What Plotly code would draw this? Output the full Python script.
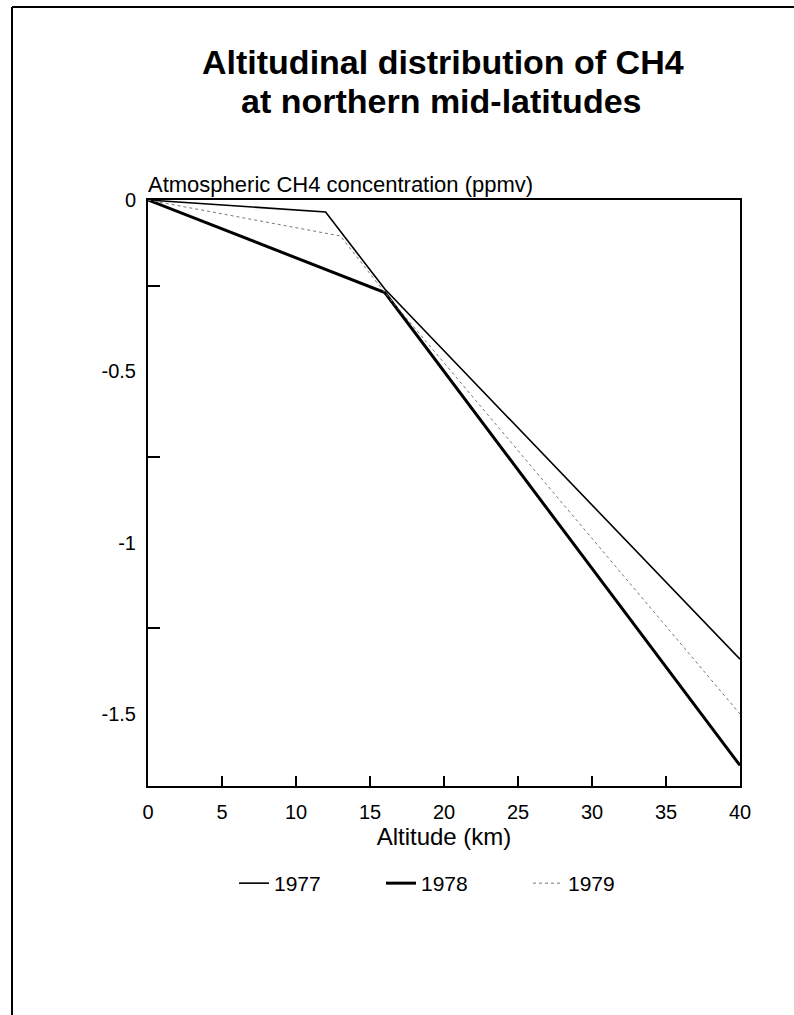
import plotly.graph_objects as go

# Data
alt_1977 = [0, 12, 16, 40]
ch4_1977 = [0, -0.035, -0.26, -1.34]
alt_1978 = [0, 16, 40]
ch4_1978 = [0, -0.27, -1.65]
alt_1979 = [0, 13, 16, 40]
ch4_1979 = [0, -0.105, -0.27, -1.50]

x_ticks = [0, 5, 10, 15, 20, 25, 30, 35, 40]
y_ticks = [0, -0.5, -1, -1.5]
y_ticklabels = ["0", "-0.5", "-1", "-1.5"]
y_minor = [-0.25, -0.75, -1.25]

FONT = "Liberation Sans, Arial, sans-serif"

fig = go.Figure()
fig.add_trace(go.Scatter(x=alt_1977, y=ch4_1977, mode="lines", name="1977",
                         line=dict(color="black", width=1.6)))
fig.add_trace(go.Scatter(x=alt_1978, y=ch4_1978, mode="lines", name="1978",
                         line=dict(color="black", width=3)))
fig.add_trace(go.Scatter(x=alt_1979, y=ch4_1979, mode="lines", name="1979",
                         line=dict(color="#777777", width=1, dash="dot")))

L, R, T, B = 148, 54, 200, 229
W, H = 794, 1015
pw, ph = W - L - R, H - T - B

def px(x):
    return (x - L) / pw

def py(y):
    return (H - B - y) / ph

fig.update_layout(
    width=W, height=H,
    margin=dict(l=L, r=R, t=T, b=B),
    paper_bgcolor="white", plot_bgcolor="white",
    font=dict(family=FONT, color="black"),
    showlegend=True,
    legend=dict(orientation="h", x=px(234), y=py(863), xanchor="left", yanchor="top",
                font=dict(size=21), entrywidth=102, entrywidthmode="pixels",
                bgcolor="rgba(0,0,0,0)"),
    xaxis=dict(range=[0, 40], tickvals=x_ticks, ticks="inside", ticklen=10,
               tickwidth=1.5, tickcolor="black", showline=True, linecolor="black",
               linewidth=2, mirror=True, showgrid=False, zeroline=False,
               tickfont=dict(size=20), ticklabelstandoff=7,
               title=dict(text="Altitude (km)", font=dict(size=24), standoff=4)),
    yaxis=dict(range=[-1.71, 0], tickvals=y_ticks, ticktext=y_ticklabels, ticks="",
               showline=True, linecolor="black", linewidth=2, mirror=True,
               showgrid=False, zeroline=False, tickfont=dict(size=20),
               ticklabelstandoff=6,
               minor=dict(tickvals=y_minor, ticks="inside", ticklen=12,
                          tickwidth=1.5, tickcolor="black", showgrid=False)),
)

fig.add_annotation(text="<b>Altitudinal distribution of CH4</b>",
                   xref="paper", yref="paper", x=px(443), y=py(62),
                   xanchor="center", yanchor="middle", showarrow=False,
                   font=dict(size=34, family=FONT))
fig.add_annotation(text="<b>at northern mid-latitudes</b>",
                   xref="paper", yref="paper", x=px(441), y=py(101),
                   xanchor="center", yanchor="middle", showarrow=False,
                   font=dict(size=34, family=FONT))
fig.add_annotation(text="Atmospheric CH4 concentration (ppmv)",
                   xref="paper", yref="paper", x=px(146), y=py(184),
                   xanchor="left", yanchor="middle", showarrow=False,
                   font=dict(size=22, family=FONT))

# outer frame lines (top and left)
fig.add_shape(type="line", xref="paper", yref="paper", x0=px(12), x1=px(794),
              y0=py(7), y1=py(7), line=dict(color="black", width=2))
fig.add_shape(type="line", xref="paper", yref="paper", x0=px(12), x1=px(12),
              y0=py(7), y1=py(1015), line=dict(color="black", width=2))

fig.write_html("out.html")
